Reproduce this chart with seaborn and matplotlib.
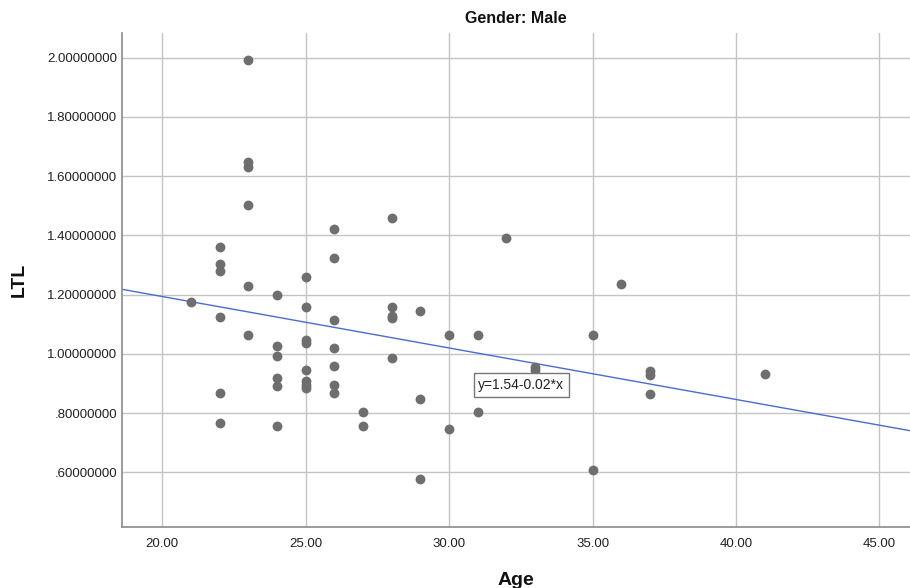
import numpy as np
import pandas as pd
import matplotlib
matplotlib.use("Agg")
import matplotlib.pyplot as plt
import seaborn as sns
from matplotlib.ticker import FuncFormatter, MultipleLocator

age = [21, 22, 22, 22, 22, 22, 22,
       23, 23, 23, 23, 23, 23,
       24, 24, 24, 24, 24, 24,
       25, 25, 25, 25, 25, 25, 25, 25,
       26, 26, 26, 26, 26, 26, 26,
       27, 27,
       28, 28, 28, 28, 28,
       29, 29, 29,
       30, 30, 31, 31, 32, 33, 33,
       35, 35, 36, 37, 37, 37, 41]
ltl = [1.176, 1.361, 1.303, 1.278, 1.126, 0.868, 0.765,
       1.992, 1.649, 1.631, 1.503, 1.229, 1.062,
       1.200, 1.028, 0.993, 0.918, 0.890, 0.757,
       1.259, 1.159, 1.047, 1.036, 0.946, 0.907, 0.895, 0.884,
       1.423, 1.324, 1.115, 1.021, 0.959, 0.894, 0.869,
       0.805, 0.758,
       1.457, 1.157, 1.128, 1.120, 0.987,
       1.145, 0.847, 0.578,
       1.063, 0.746, 1.064, 0.805, 1.391, 0.957, 0.946,
       1.063, 0.609, 1.235, 0.943, 0.929, 0.863, 0.933]

title = "Gender: Male"
x_label = "Age"
y_label = "LTL"
equation = "y=1.54-0.02*x"

df = pd.DataFrame({"Age": age, "LTL": ltl})

sns.set_theme(style="white")
plt.rcParams["font.family"] = ["Liberation Sans", "DejaVu Sans"]

fig = plt.figure(figsize=(9.1, 5.88), dpi=100)
ax = fig.add_axes([0.1346, 0.1042, 0.8654, 0.8397])
ax.set_xlim(18.61, 46.07)
ax.set_ylim(0.4165, 2.083)

sns.regplot(data=df, x="Age", y="LTL", ax=ax, ci=None, truncate=False,
            scatter_kws=dict(color="#6e6e6e", s=50, linewidths=0, alpha=1, zorder=3),
            line_kws=dict(color="#4a6ccf", lw=1.0, zorder=2))
ax.set_xlim(18.61, 46.07)
ax.set_ylim(0.4165, 2.083)

ax.xaxis.set_major_locator(MultipleLocator(5))
ax.yaxis.set_major_locator(MultipleLocator(0.2))
ax.xaxis.set_major_formatter(FuncFormatter(lambda v, p: f"{v:.2f}"))

def yfmt(v, p):
    s = f"{v:.8f}"
    if s.startswith("0."):
        s = s[1:]
    return s
ax.yaxis.set_major_formatter(FuncFormatter(yfmt))

ax.grid(True, color="#c4c4c4", lw=1.0, zorder=0)
ax.set_axisbelow(True)
for side in ["top", "right"]:
    ax.spines[side].set_visible(False)
for side in ["left", "bottom"]:
    ax.spines[side].set_color("#8a8a8a")
    ax.spines[side].set_linewidth(1.2)
ax.tick_params(axis="y", length=0, labelsize=9.5, labelcolor="#222222", pad=4)
ax.tick_params(axis="x", length=0, labelsize=9.5, labelcolor="#222222", pad=8)

ax.set_xlabel(x_label, fontsize=14, fontweight="bold", labelpad=16, color="#111111")
ax.set_ylabel(y_label, fontsize=14, fontweight="bold", labelpad=14, color="#111111")
ax.set_title(title, fontsize=11.5, fontweight="bold", pad=7, color="#111111")

ax.text(32.52, 0.895, equation, fontsize=10, ha="center", va="center", color="#222222",
        bbox=dict(boxstyle="square,pad=0.35", fc="white", ec="#777777", lw=1.0), zorder=5)

fig.savefig("out.png", dpi=100)
